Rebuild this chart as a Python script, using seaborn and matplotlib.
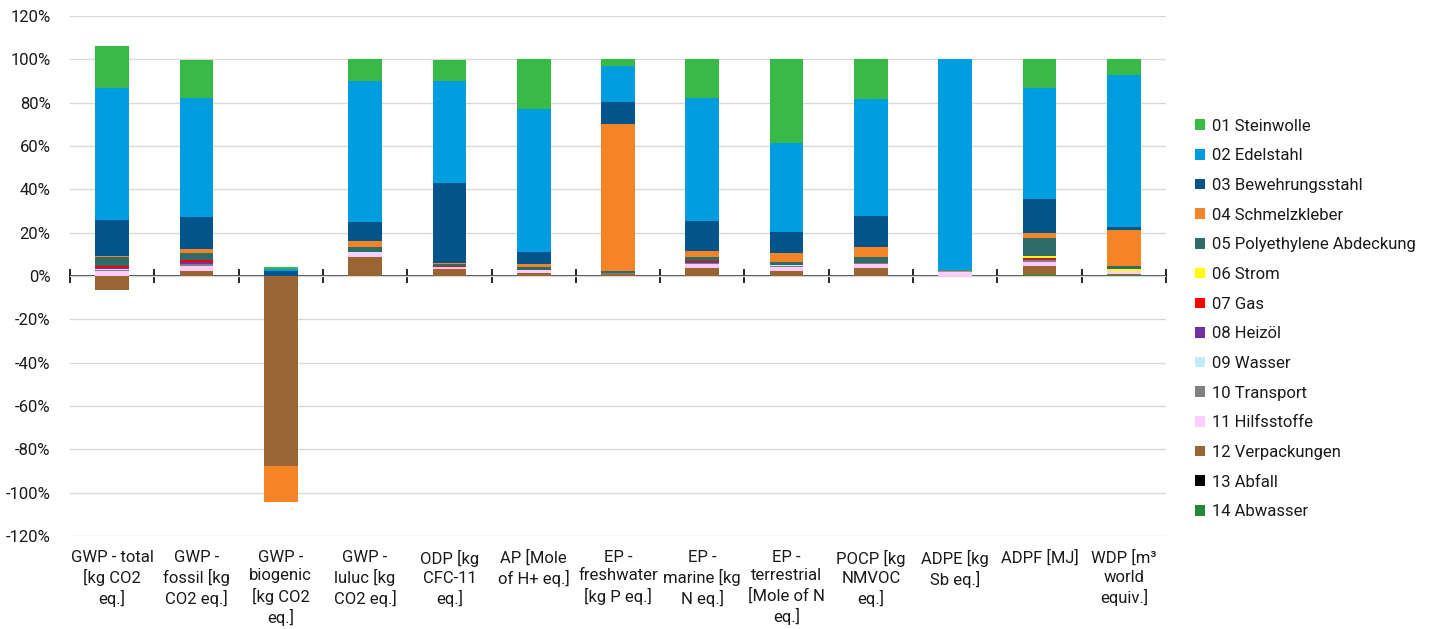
import matplotlib
matplotlib.use("Agg")
import matplotlib.pyplot as plt
import seaborn as sns
import numpy as np
from matplotlib.patches import Patch
from matplotlib.ticker import PercentFormatter

categories = [
    "GWP - total\n[kg CO2\neq.]",
    "GWP -\nfossil [kg\nCO2 eq.]",
    "GWP -\nbiogenic\n[kg CO2\neq.]",
    "GWP -\nluluc [kg\nCO2 eq.]",
    "ODP [kg\nCFC-11\neq.]",
    "AP [Mole\nof H+ eq.]",
    "EP -\nfreshwater\n[kg P eq.]",
    "EP -\nmarine [kg\nN eq.]",
    "EP -\nterrestrial\n[Mole of N\neq.]",
    "POCP [kg\nNMVOC\neq.]",
    "ADPE [kg\nSb eq.]",
    "ADPF [MJ]",
    "WDP [m³\nworld\nequiv.]",
]

# shares in percent, one list per contributor
steinwolle = [19.0, 17.5, 0.7, 10.0, 10.0, 23.0, 3.5, 17.9, 38.6, 18.3, 0.0, 13.4, 7.0]
edelstahl = [61.0, 55.0, 1.0, 65.0, 47.0, 65.8, 16.2, 56.5, 41.1, 54.0, 97.9, 51.2, 70.2]
bewehrungsstahl = [16.8, 15.0, 2.3, 9.0, 37.0, 5.8, 10.4, 14.2, 9.8, 14.5, 0.0, 15.4, 1.5]
schmelzkleber = [0.4, 1.7, -16.6, 2.8, 0.4, 1.2, 68.0, 2.6, 4.0, 4.2, 0.3, 2.6, 16.5]
polyethylene = [4.0, 3.4, 0.0, 2.3, 0.8, 1.2, 0.7, 2.0, 1.2, 2.8, 0.0, 8.2, 1.4]
strom = [0.1, 0.0, 0.0, 0.0, 0.0, 0.0, 0.0, 0.0, 0.3, 0.3, 0.0, 0.7, 0.9]
gas = [1.0, 0.8, 0.0, 0.0, 0.5, 0.0, 0.0, 0.3, 0.0, 0.0, 0.0, 0.7, 0.0]
heizoel = [0.6, 1.0, 0.0, 0.0, 0.0, 0.0, 0.0, 0.5, 0.0, 0.0, 0.0, 0.2, 0.0]
wasser = [0.2, 0.0, 0.0, 0.3, 0.0, 0.0, 0.0, 0.0, 0.3, 0.0, 0.0, 0.0, 0.0]
transport = [0.8, 0.8, 0.0, 0.0, 0.0, 0.3, 0.3, 0.6, 0.4, 0.4, 0.0, 1.2, 0.0]
hilfsstoffe = [2.0, 2.3, 0.0, 1.8, 1.1, 1.5, 0.0, 1.7, 1.8, 2.0, 1.8, 1.8, 1.4]
verpackungen = [-6.3, 2.3, -87.7, 8.9, 3.1, 1.2, 0.9, 3.7, 2.5, 3.5, 0.0, 4.3, 0.6]
abfall = [0.1, 0.0, 0.0, 0.0, 0.0, 0.0, 0.2, 0.0, 0.0, 0.0, 0.0, 0.0, 0.2]
abwasser = [0.0, 0.0, 0.0, 0.0, 0.0, 0.0, 0.0, 0.0, 0.0, 0.0, 0.0, 0.3, 0.3]

series = [
    ("01 Steinwolle", steinwolle, "#39B947"),
    ("02 Edelstahl", edelstahl, "#009DDF"),
    ("03 Bewehrungsstahl", bewehrungsstahl, "#03548A"),
    ("04 Schmelzkleber", schmelzkleber, "#F58426"),
    ("05 Polyethylene Abdeckung", polyethylene, "#2E6B69"),
    ("06 Strom", strom, "#FFFF00"),
    ("07 Gas", gas, "#FF0000"),
    ("08 Heizöl", heizoel, "#7030A0"),
    ("09 Wasser", wasser, "#C5EAF8"),
    ("10 Transport", transport, "#808080"),
    ("11 Hilfsstoffe", hilfsstoffe, "#FFCCFF"),
    ("12 Verpackungen", verpackungen, "#996633"),
    ("13 Abfall", abfall, "#000000"),
    ("14 Abwasser", abwasser, "#23883A"),
]

sns.set_theme(style="white")
plt.rcParams["font.family"] = ["Roboto", "DejaVu Sans"]
plt.rcParams["axes.unicode_minus"] = False
text_col = "#1a1a1a"
fs = 12

fig = plt.figure(figsize=(14.31, 6.29), dpi=100)
ax = fig.add_axes([70 / 1431, 1 - 536 / 629, 1096 / 1431, 520 / 629])

pos_base = np.zeros(len(categories))
neg_base = np.zeros(len(categories))
# Excel stacks the last series first
for name, vals, col in reversed(series):
    v = np.array(vals)
    bottom = np.where(v >= 0, pos_base, neg_base)
    sns.barplot(x=categories, y=v, bottom=bottom, color=col, width=0.4,
                linewidth=0, saturation=1, ax=ax)
    pos_base += np.clip(v, 0, None)
    neg_base += np.clip(v, None, 0)

ax.set_ylim(-120, 120)
ax.set_xlim(-0.5, len(categories) - 0.5)
ax.set_yticks(np.arange(-120, 121, 20))
ax.yaxis.set_major_formatter(PercentFormatter(decimals=0))
ax.grid(axis="y", color="#D9D9D9", linewidth=1)
ax.set_axisbelow(True)
for s in ax.spines.values():
    s.set_visible(False)
ax.tick_params(axis="y", length=0, pad=14, labelsize=fs, labelcolor=text_col)
ax.tick_params(axis="x", length=0, pad=10, labelsize=fs, labelcolor=text_col)
for lab in ax.get_xticklabels():
    lab.set_multialignment("center")
    lab.set_linespacing(1.3)
ax.set_xlabel("")
ax.set_ylabel("")

# zero line with category tick marks
zero = ax.secondary_xaxis(0.5)
zero.set_xticks(np.arange(-0.5, len(categories), 1))
zero.set_xticklabels([])
zero.tick_params(direction="inout", length=10, width=1.2, color="black")
zero.spines["bottom"].set_color("black")
zero.spines["bottom"].set_linewidth(1.6)

handles = [Patch(facecolor=c, edgecolor="none", label=n) for n, _, c in series]
fig.legend(handles=handles, loc="center left", bbox_to_anchor=(1180 / 1431, 1 - 319 / 629),
           frameon=False, fontsize=fs, handlelength=0.6, handleheight=0.6,
           handletextpad=0.4, labelspacing=0.88, labelcolor=text_col)

fig.savefig("out.png", dpi=100)
